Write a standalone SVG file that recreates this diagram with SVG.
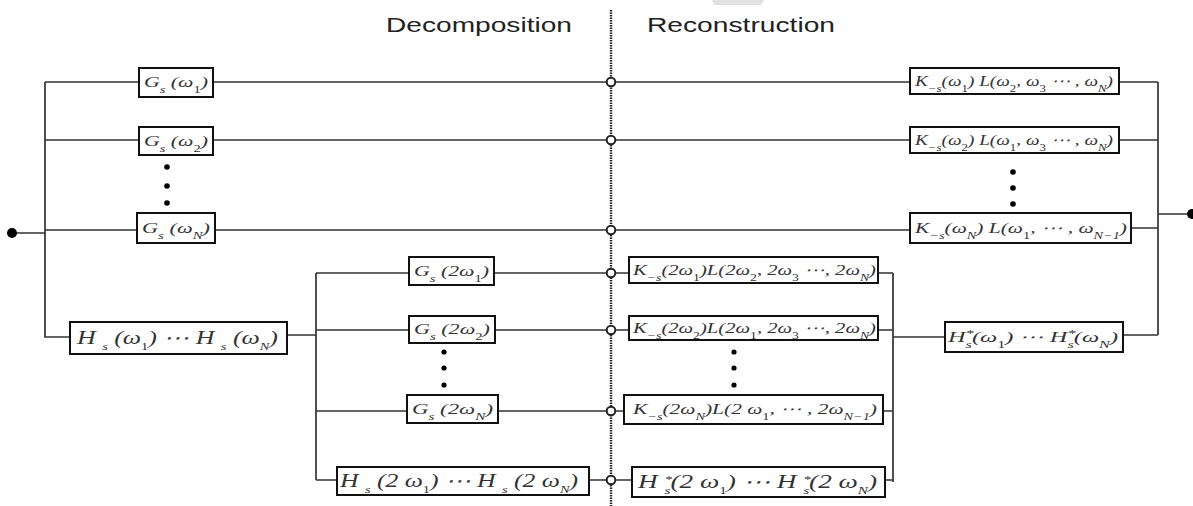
<svg xmlns="http://www.w3.org/2000/svg" width="1193" height="506" viewBox="0 0 1193 506">
<style>
.title{font-family:"Liberation Sans",Arial,sans-serif;font-size:21px;fill:#222}
.box{fill:#fff;stroke:#111;stroke-width:2}
.m{font-family:"Liberation Serif","Times New Roman",serif;font-style:italic;font-size:15px;fill:#333}
.big{font-size:18px}
.sub{font-size:10px;font-style:italic}
.n{font-style:normal}
.w{fill:none;stroke:#333;stroke-width:1.7}
.j{fill:#fff;stroke:#222;stroke-width:2}
.dot{fill:#000}
</style>
<rect width="1193" height="506" fill="#fff"/>
<polygon points="712,0 764,0 761,5 714,5" fill="#e2e2e2"/>
<text class="title" x="386" y="32" textLength="186" lengthAdjust="spacingAndGlyphs">Decomposition</text>
<text class="title" x="647" y="32" textLength="188" lengthAdjust="spacingAndGlyphs">Reconstruction</text>
<line x1="611" y1="10" x2="611" y2="506" stroke="#222" stroke-width="2.4" stroke-dasharray="1.5 1"/>
<g id="connectors">
<path class="w" d="M12,233 H45 M45,82 V337 H70 M45,82 H139 M213,82 H910 M45,140 H139 M213,140 H910 M45,230 H137 M215,230 H910 M1119,82 H1158 M1119,140 H1158 M1131,228 H1158 M1158,82 V335 M1158,214 H1190 M287,335 H316 M316,273 V480 M316,273 H409 M494,273 H629 M316,330 H409 M495,330 H629 M316,411 H407 M498,411 H624 M316,480 H337 M589,480 H632 M878,273 H893 M878,330 H893 M883,411 H893 M885,480 H893 M893,273 V482 M893,337 H945 M1123,335 H1158"/>
<circle class="j" cx="611" cy="82" r="4.3"/>
<circle class="j" cx="611" cy="140" r="4.3"/>
<circle class="j" cx="611" cy="230" r="4.3"/>
<circle class="j" cx="611" cy="273" r="4.3"/>
<circle class="j" cx="611" cy="330" r="4.3"/>
<circle class="j" cx="611" cy="411" r="4.3"/>
<circle class="j" cx="611" cy="480" r="4.3"/>
<circle class="dot" cx="12" cy="233" r="5"/>
<circle class="dot" cx="1192" cy="214" r="5"/>
<circle class="dot" cx="167" cy="167" r="2.8"/><circle class="dot" cx="167" cy="186" r="2.8"/><circle class="dot" cx="167" cy="203" r="2.8"/>
<circle class="dot" cx="444" cy="352" r="2.6"/><circle class="dot" cx="444" cy="368" r="2.6"/><circle class="dot" cx="444" cy="385" r="2.6"/>
<circle class="dot" cx="734" cy="352" r="2.6"/><circle class="dot" cx="734" cy="368" r="2.6"/><circle class="dot" cx="734" cy="385" r="2.6"/>
<circle class="dot" cx="1013" cy="172" r="2.8"/><circle class="dot" cx="1013" cy="188" r="2.8"/><circle class="dot" cx="1013" cy="204" r="2.8"/>
</g>
<g id="g1"><rect class="box" x="139" y="68" width="74" height="29"/>
<text class="m" x="144" y="87" textLength="64" lengthAdjust="spacingAndGlyphs">G<tspan class="sub" baseline-shift="sub">s</tspan> (ω<tspan class="sub n" baseline-shift="sub">1</tspan>)</text></g>
<g id="g2"><rect class="box" x="139" y="127" width="74" height="28"/>
<text class="m" x="144" y="146" textLength="64" lengthAdjust="spacingAndGlyphs">G<tspan class="sub" baseline-shift="sub">s</tspan> (ω<tspan class="sub n" baseline-shift="sub">2</tspan>)</text></g>
<g id="gN"><rect class="box" x="137" y="213" width="78" height="30"/>
<text class="m" x="142" y="233" textLength="68" lengthAdjust="spacingAndGlyphs">G<tspan class="sub" baseline-shift="sub">s</tspan> (ω<tspan class="sub" baseline-shift="sub">N</tspan>)</text></g>
<g id="h"><rect class="box" x="70" y="322" width="217" height="32"/>
<text class="m big" x="77" y="344" textLength="201" lengthAdjust="spacingAndGlyphs">H <tspan class="sub" baseline-shift="sub">s</tspan> (ω<tspan class="sub n" baseline-shift="sub">1</tspan>) ⋯ H <tspan class="sub" baseline-shift="sub">s</tspan> (ω<tspan class="sub" baseline-shift="sub">N</tspan>)</text></g>
<g id="g2w1"><rect class="box" x="409" y="257" width="85" height="28"/>
<text class="m" x="414" y="276" textLength="75" lengthAdjust="spacingAndGlyphs">G<tspan class="sub" baseline-shift="sub">s</tspan> (2ω<tspan class="sub n" baseline-shift="sub">1</tspan>)</text></g>
<g id="g2w2"><rect class="box" x="409" y="316" width="86" height="27"/>
<text class="m" x="414" y="334" textLength="76" lengthAdjust="spacingAndGlyphs">G<tspan class="sub" baseline-shift="sub">s</tspan> (2ω<tspan class="sub n" baseline-shift="sub">2</tspan>)</text></g>
<g id="g2wN"><rect class="box" x="407" y="395" width="91" height="28"/>
<text class="m" x="412" y="414" textLength="81" lengthAdjust="spacingAndGlyphs">G<tspan class="sub" baseline-shift="sub">s</tspan> (2ω<tspan class="sub" baseline-shift="sub">N</tspan>)</text></g>
<g id="h2"><rect class="box" x="337" y="467" width="252" height="28"/>
<text class="m big" x="340" y="487" textLength="238" lengthAdjust="spacingAndGlyphs">H <tspan class="sub" baseline-shift="sub">s</tspan> (2 ω<tspan class="sub n" baseline-shift="sub">1</tspan>) ⋯  H <tspan class="sub" baseline-shift="sub">s</tspan> (2 ω<tspan class="sub" baseline-shift="sub">N</tspan>)</text></g>
<g id="k2w1"><rect class="box" x="629" y="257" width="249" height="26"/>
<text class="m" x="633" y="275" textLength="243" lengthAdjust="spacingAndGlyphs">K<tspan class="sub" baseline-shift="sub">−s</tspan>(2ω<tspan class="sub n" baseline-shift="sub">1</tspan>)L(2ω<tspan class="sub n" baseline-shift="sub">2</tspan>, 2ω<tspan class="sub n" baseline-shift="sub">3</tspan> ⋯, 2ω<tspan class="sub" baseline-shift="sub">N</tspan>)</text></g>
<g id="k2w2"><rect class="box" x="629" y="316" width="249" height="24"/>
<text class="m" x="633" y="333" textLength="243" lengthAdjust="spacingAndGlyphs">K<tspan class="sub" baseline-shift="sub">−s</tspan>(2ω<tspan class="sub n" baseline-shift="sub">2</tspan>)L(2ω<tspan class="sub n" baseline-shift="sub">1</tspan>, 2ω<tspan class="sub n" baseline-shift="sub">3</tspan> ⋯, 2ω<tspan class="sub" baseline-shift="sub">N</tspan>)</text></g>
<g id="k2wN"><rect class="box" x="624" y="395" width="259" height="29"/>
<text class="m" x="633" y="414" textLength="244" lengthAdjust="spacingAndGlyphs">K<tspan class="sub" baseline-shift="sub">−s</tspan>(2ω<tspan class="sub" baseline-shift="sub">N</tspan>)L(2 ω<tspan class="sub n" baseline-shift="sub">1</tspan>, ⋯ , 2ω<tspan class="sub" baseline-shift="sub">N−1</tspan>)</text></g>
<g id="hs2"><rect class="box" x="632" y="467" width="253" height="30"/>
<text class="m big" x="638" y="488" textLength="239" lengthAdjust="spacingAndGlyphs">H <tspan class="sub" baseline-shift="super">*</tspan><tspan class="sub" dx="-5" baseline-shift="sub">s</tspan>(2 ω<tspan class="sub n" baseline-shift="sub">1</tspan>) ⋯  H <tspan class="sub" baseline-shift="super">*</tspan><tspan class="sub" dx="-5" baseline-shift="sub">s</tspan>(2 ω<tspan class="sub" baseline-shift="sub">N</tspan>)</text></g>
<g id="k1"><rect class="box" x="910" y="68" width="209" height="26"/>
<text class="m" x="915" y="86" textLength="198" lengthAdjust="spacingAndGlyphs">K<tspan class="sub" baseline-shift="sub">−s</tspan>(ω<tspan class="sub n" baseline-shift="sub">1</tspan>) L(ω<tspan class="sub n" baseline-shift="sub">2</tspan>, ω<tspan class="sub n" baseline-shift="sub">3</tspan> ⋯ , ω<tspan class="sub" baseline-shift="sub">N</tspan>)</text></g>
<g id="k2"><rect class="box" x="910" y="127" width="209" height="26"/>
<text class="m" x="915" y="145" textLength="198" lengthAdjust="spacingAndGlyphs">K<tspan class="sub" baseline-shift="sub">−s</tspan>(ω<tspan class="sub n" baseline-shift="sub">2</tspan>) L(ω<tspan class="sub n" baseline-shift="sub">1</tspan>, ω<tspan class="sub n" baseline-shift="sub">3</tspan> ⋯ , ω<tspan class="sub" baseline-shift="sub">N</tspan>)</text></g>
<g id="kN"><rect class="box" x="910" y="213" width="221" height="30"/>
<text class="m" x="915" y="233" textLength="212" lengthAdjust="spacingAndGlyphs">K<tspan class="sub" baseline-shift="sub">−s</tspan>(ω<tspan class="sub" baseline-shift="sub">N</tspan>) L(ω<tspan class="sub n" baseline-shift="sub">1</tspan>, ⋯ , ω<tspan class="sub" baseline-shift="sub">N−1</tspan>)</text></g>
<g id="hs"><rect class="box" x="945" y="322" width="178" height="30"/>
<text class="m" x="948" y="342" textLength="170" lengthAdjust="spacingAndGlyphs">H<tspan class="sub" baseline-shift="super">*</tspan><tspan class="sub" dx="-5" baseline-shift="sub">s</tspan>(ω<tspan class="sub n" baseline-shift="sub">1</tspan>) ⋯ H<tspan class="sub" baseline-shift="super">*</tspan><tspan class="sub" dx="-5" baseline-shift="sub">s</tspan>(ω<tspan class="sub" baseline-shift="sub">N</tspan>)</text></g>
</svg>
